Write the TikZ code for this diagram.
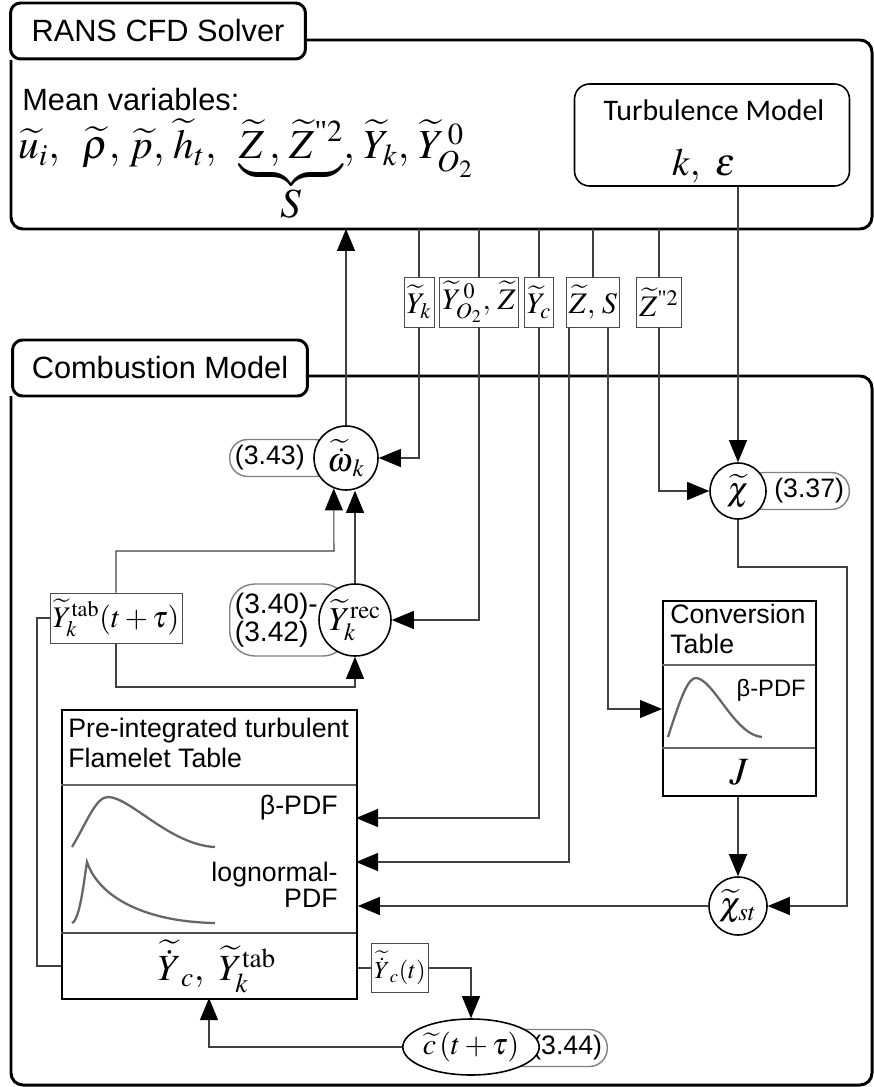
\documentclass[tikz,border=0pt]{standalone}
\usepackage{amsmath}
\usepackage{mathptmx}
\usepackage[no-math]{fontspec}
\setmainfont{Liberation Sans}
\newfontfamily\serifrm{Liberation Serif}
\newfontfamily\calib{Carlito}
\usetikzlibrary{arrows.meta, positioning, shapes.geometric}

\begin{document}
\begin{tikzpicture}[
        x=0.02cm, y=-0.02cm,
        outerbox/.style={line width=1.7pt, rounded corners=0.24cm},
        tabbox/.style={draw, line width=1.7pt, rounded corners=0.2cm, fill=white, minimum width=5.9cm, minimum height=1.12cm, font=\fontsize{17.5}{20}\selectfont},
        varbox/.style={draw=black!70, fill=white, minimum height=1cm, inner xsep=1.5pt, inner ysep=1pt, font=\fontsize{17}{20}\selectfont},
        calcnode/.style={circle, draw, line width=0.9pt, fill=white, inner sep=0pt, font=\fontsize{19}{22}\selectfont},
        eqtag/.style={draw=black!50, line width=0.8pt, rounded corners=0.36cm, minimum height=0.74cm, inner xsep=3pt, font=\fontsize{15.2}{16}\selectfont},
        tablebox/.style={draw, line width=1.1pt},
        txt/.style={inner sep=0pt, font=\fontsize{15.2}{17}\selectfont},
        wire/.style={draw=black!75, line width=0.6pt},
        arr/.style={wire, -{Triangle[length=0.44cm, width=0.36cm, color=black]}},
        pdfcurve/.style={draw=black!60, line width=1.3pt}
    ]
    \useasboundingbox (0,0) rectangle (874,1087);

    % Frames
    \draw[outerbox] (305,40) -| (872,229) -| (11,60);
    \draw[outerbox] (308,376) -| (872,1085) -| (11,396);
    \node[tabbox] (rans) at (158,31) {RANS CFD Solver};
    \node[tabbox] (comb) at (160,368) {Combustion Model};
    \coordinate (rb) at (0,229);

    % Solver
    \node[txt, anchor=west, font=\fontsize{17.5}{20}\selectfont] (meanlbl) at (22,100) {Mean variables:};
    \node[anchor=base west, inner sep=0pt, font=\fontsize{23.5}{28}\selectfont] (meanvars) at (18,159)
        {$\widetilde{u}_i,\;\;\widetilde{\rho},\,\widetilde{p},\,\widetilde{h}_t,\;\;\underbrace{\widetilde{Z}\,,\,\widetilde{Z}^{\text{\serifrm"}2}}_{\displaystyle S},\,\widetilde{Y}_k,\,\widetilde{Y}^{\,0}_{O_2}$};
    \node[draw, line width=0.9pt, rounded corners=0.3cm, minimum width=5.5cm, minimum height=2.04cm] (turb) at (712,135) {};
    \node[txt, font=\calib\fontsize{17}{20}\selectfont] (turbname) at (714,110) {Turbulence Model};
    \node[inner sep=0pt, font=\fontsize{22}{26}\selectfont] (turbvars) at (704,166) {$k,\ \varepsilon$};

    % Transferred variables
    \node[varbox] (lYk) at (419,302) {$\widetilde{Y}_k$};
    \node[varbox] (lYO) at (479,302) {$\widetilde{Y}^{\,0}_{O_2},\,\widetilde{Z}$};
    \node[varbox] (lYc) at (539,302) {$\widetilde{Y}_c$};
    \node[varbox] (lZS) at (593,302) {$\widetilde{Z},\,S$};
    \node[varbox] (lZ2) at (659,302) {$\widetilde{Z}^{\text{\serifrm"}2}$};

    % Equations
    \node[eqtag, anchor=west] (t343) at (229,458) {(3.43)\hspace{0.45cm}\mbox{}};
    \node[calcnode, minimum size=1.28cm] (om) at (346,458) {$\widetilde{\dot{\omega}}_k$};
    \node[eqtag, anchor=east] (t337) at (850,491) {\mbox{}\hspace{0.45cm}(3.37)};
    \node[calcnode, minimum size=1.12cm] (chi) at (738,491) {$\widetilde{\chi}$};
    \node[eqtag, anchor=west, align=left, rounded corners=0.5cm, minimum height=1.44cm, font=\fontsize{16}{14.8}\selectfont] (t340) at (229,620) {(3.40)-\hspace{0.5cm}\mbox{}\\(3.42)};
    \node[calcnode, minimum size=1.44cm] (yrec) at (355,620) {$\widetilde{Y}_k^{\mathrm{rec}}$};
    \node[calcnode, minimum size=1.16cm] (chist) at (738,906) {$\widetilde{\chi}_{st}$};
    \node[eqtag, anchor=east] (t344) at (608,1048) {\mbox{}\hspace{0.6cm}(3.44)};
    \node[calcnode, ellipse, minimum width=1.96cm, minimum height=1.12cm, font=\fontsize{17}{20}\selectfont] (ctil) at (471,1047) {$\widetilde{c}\,(t+\tau)$};
    \node[varbox] (ytab) at (116,618) {$\widetilde{Y}_k^{\mathrm{tab}}(t+\tau)$};
    \node[varbox, minimum height=0.98cm, font=\fontsize{14}{16}\selectfont] (ycdot) at (400,968) {$\widetilde{\dot{Y}}_c(t)$};

    % Conversion table
    \node[tablebox, anchor=north west, minimum width=3.06cm, minimum height=3.9cm] (conv) at (662,600) {};
    \draw[black!60, line width=0.6pt] (662,665) -- (815,665);
    \draw[black!60, line width=0.6pt] (662,748) -- (815,748);
    \node[txt, anchor=north west, align=left] (convname) at (670,604) {Conversion\\Table};
    \node[txt, anchor=east, font=\fontsize{13.5}{16}\selectfont] (convpdf) at (806,690) {β-PDF};
    \draw[pdfcurve] (668,737) .. controls (680,700) and (688,676) .. (697,678) .. controls (715,682) and (735,735) .. (762,737);
    \node[inner sep=0pt, font=\fontsize{22}{26}\selectfont] (jay) at (739,772) {$J$};

    % Flamelet table
    \node[tablebox, anchor=north west, minimum width=5.9cm, minimum height=5.78cm] (flam) at (61,709) {};
    \draw[black!60, line width=0.6pt] (61,785) -- (356,785);
    \draw[black!70, line width=0.6pt] (61,933) -- (356,933);
    \node[txt, anchor=north west, align=left] (flamname) at (68,718) {Pre-integrated turbulent\\Flamelet Table};
    \node[txt, anchor=east] (fbetalbl) at (338,808) {β-PDF};
    \node[txt, anchor=east, align=right, font=\fontsize{15.2}{14.8}\selectfont] (floglbl) at (338,885) {lognormal-\\PDF};
    \draw[pdfcurve] (72,847) .. controls (88,820) and (96,797) .. (108,797) .. controls (130,797) and (170,845) .. (215,847);
    \draw[pdfcurve] (72,923) .. controls (80,920) and (84,880) .. (87,862) .. controls (100,900) and (150,922) .. (215,923);
    \node[inner sep=0pt, font=\fontsize{21}{24}\selectfont] (flamout) at (217,966) {$\widetilde{\dot{Y}}_c,\ \widetilde{Y}_k^{\mathrm{tab}}$};

    \coordinate (fbeta) at (356,818);
    \coordinate (flog) at (356,862);
    \coordinate (fleft) at (61,966);
    \coordinate (fbot) at (209,998);
    \coordinate (convin) at (662,709);
    \coordinate (chiturn) at (847,567);
    \coordinate (lbend) at (37,618);
    \coordinate (tabturn) at (334,551);
    \coordinate (tabturn2) at (355,687);

    % Solver to combustion model
    \draw[wire] (lYk |- rb) -- (lYk);
    \draw[arr] (lYk) |- (om);
    \draw[wire] (lYO |- rb) -- (lYO);
    \draw[arr] (lYO) |- (yrec);
    \draw[wire] (lYc |- rb) -- (lYc);
    \draw[arr] (lYc) |- (fbeta);
    \draw[wire] (lZS |- rb) -- (lZS);
    \draw[arr] ([xshift=-0.48cm]lZS.south) |- (flog);
    \draw[arr] ([xshift=0.3cm]lZS.south) |- (convin);
    \draw[wire] (lZ2 |- rb) -- (lZ2);
    \draw[arr] (lZ2) |- (chi);
    \draw[arr] (turb.south -| chi) -- (chi);
    \draw[arr] (om) -- (om |- rb);

    % Inside the combustion model
    \draw[arr] (chi) |- (chiturn) |- (chist);
    \draw[arr] (conv.south -| chist) -- (chist);
    \draw[arr] (chist) -- (chist -| flam.east);
    \draw[wire] (flam.east |- ycdot) -- (ycdot);
    \draw[arr] (ycdot) -| (ctil);
    \draw[arr] (ctil) -| (fbot);
    \draw[wire] (fleft) -| (lbend) -- (ytab);
    \draw[arr] (ytab) |- (tabturn) -- (om.-112);
    \draw[arr] (ytab) |- (tabturn2) -- (yrec);
    \draw[arr] (yrec) -- (yrec |- om.south);

\end{tikzpicture}
\end{document}
